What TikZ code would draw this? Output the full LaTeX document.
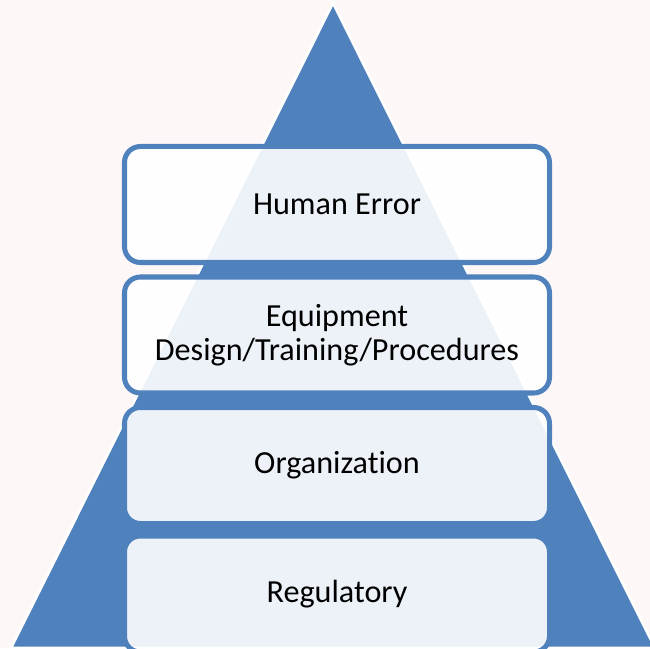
\documentclass[tikz,border=0pt]{standalone}
\usepackage{fontspec}
\setmainfont{Carlito}[Ligatures=NoCommon]
\usetikzlibrary{positioning}
\definecolor{PyrBlue}{RGB}{79,129,189}
\definecolor{PyrPaper}{RGB}{253,248,247}
\tikzset{
  pyr/layer/.style={
    draw=PyrBlue,
    line width=2.85pt,
    rounded corners=9pt,
    fill=white,
    fill opacity=0.9,
    text opacity=1,
    align=center,
    text=black,
    minimum width=8.5cm,
    minimum height=2.32cm,
    inner sep=0pt,
    font=\fontsize{18.3}{19.5}\selectfont
  },
  pyr/shape/.style={fill=PyrBlue, draw=white, line width=1.5pt, line join=miter}
}

\begin{document}
\begin{tikzpicture}[x=1cm,y=1cm]
  \useasboundingbox (0,0) rectangle (13,12.96);
  \clip (0,0) rectangle (13,12.96);
  \fill[PyrPaper] (0,0) rectangle (13,12.96);
  % the pyramid behind the layers
  \draw[pyr/shape] (0.22,0) -- (6.66,12.90) -- (13.10,0) -- cycle;
  \node[pyr/layer] (human) at (6.74,8.87) {Human Error};
  \node[pyr/layer] (equip) at (6.74,6.26) {Equipment\\Design/Training/Procedures};
  \node[pyr/layer] (org) at (6.74,3.65) {Organization};
  \node[pyr/layer] (reg) at (6.74,1.08) {Regulatory};
\end{tikzpicture}
\end{document}
